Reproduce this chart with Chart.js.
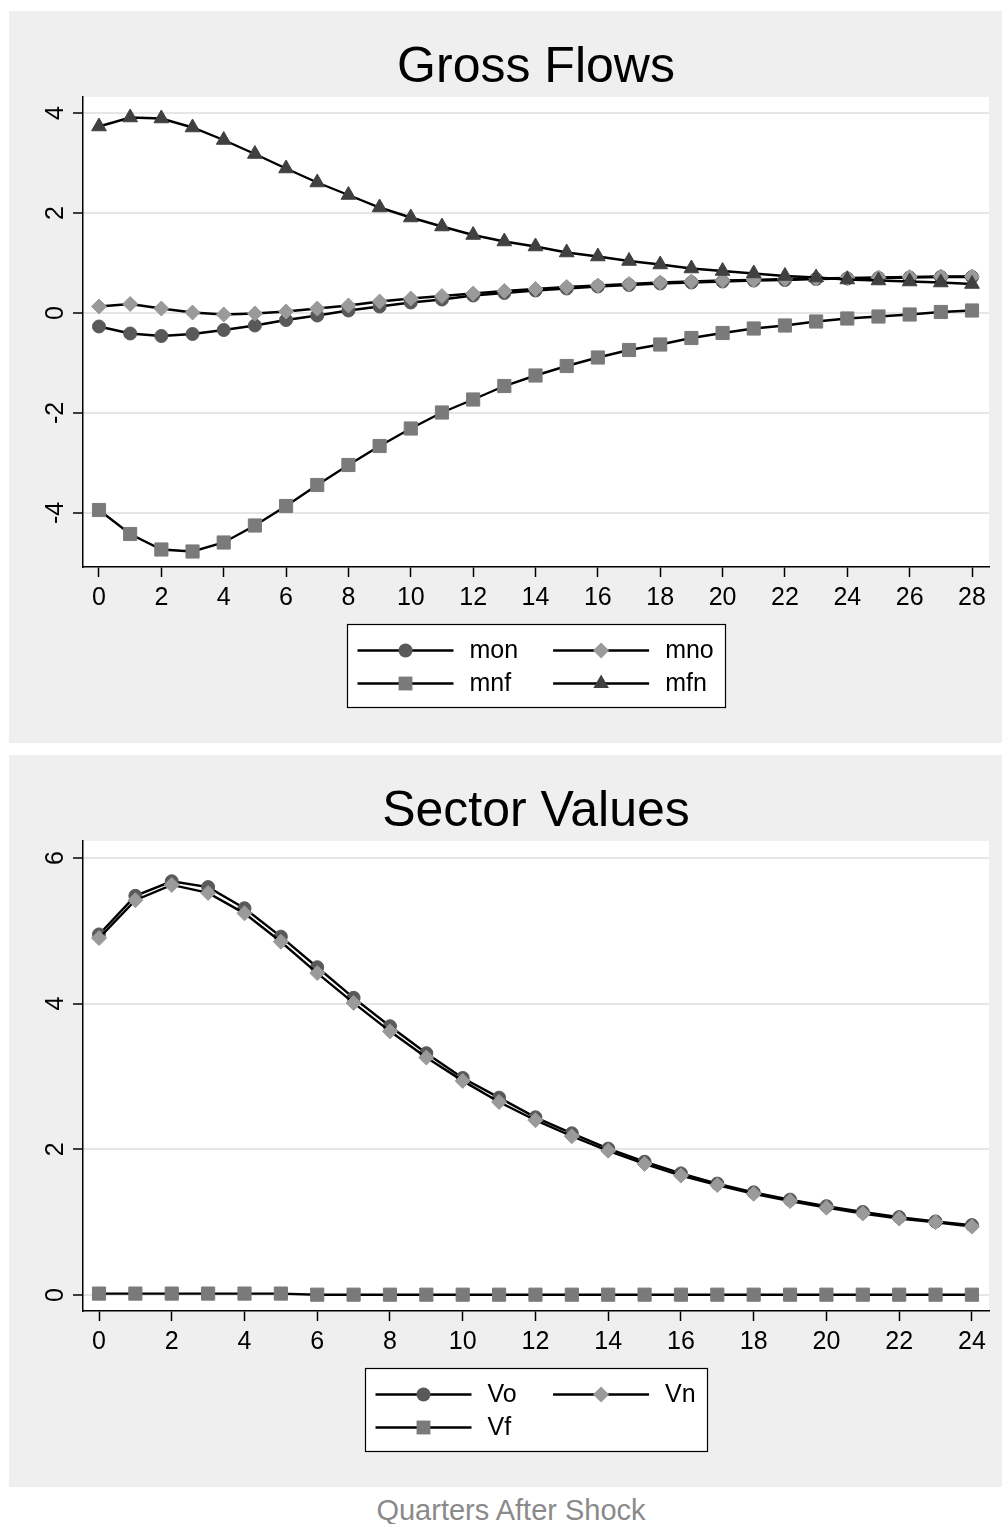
<!DOCTYPE html>
<html>
<head>
<meta charset="utf-8">
<script src="https://cdn.jsdelivr.net/npm/chart.js@4.4.1/dist/chart.umd.min.js"></script>
<style>
  body { margin: 0; background: #fff; width: 1002px; height: 1524px; position: relative; overflow: hidden; }
  .panel { position: absolute; left: 9px; width: 993px; height: 732px; background: #efefef; }
  #p1 { top: 11px; }
  #p2 { top: 755px; }
  canvas { display: block; }
  #note { position: absolute; top: 1496px; left: 511px; transform: translateX(-50%);
          font: 29px "Liberation Sans", Arial, sans-serif; line-height: 1; color: #8a8a8a; white-space: nowrap; }
</style>
</head>
<body>
<div class="panel" id="p1"><canvas id="flows" width="993" height="732"></canvas></div>
<div class="panel" id="p2"><canvas id="values" width="993" height="732"></canvas></div>
<div id="note">Quarters After Shock</div>
<script>
// Gross Flows (top)
var flowQuarters = [0, 1, 2, 3, 4, 5, 6, 7, 8, 9, 10, 11, 12, 13, 14, 15, 16, 17, 18, 19, 20, 21, 22, 23, 24, 25, 26, 27, 28];
var mon = [-0.27, -0.41, -0.46, -0.42, -0.34, -0.25, -0.14, -0.05, 0.05, 0.13, 0.21, 0.27, 0.35, 0.40, 0.45, 0.49, 0.53, 0.56, 0.59, 0.61, 0.63, 0.65, 0.66, 0.68, 0.69, 0.70, 0.71, 0.72, 0.72];
var mno = [0.13, 0.18, 0.09, 0.01, -0.03, -0.01, 0.03, 0.09, 0.15, 0.23, 0.29, 0.34, 0.39, 0.44, 0.48, 0.52, 0.55, 0.58, 0.61, 0.63, 0.65, 0.66, 0.68, 0.69, 0.70, 0.71, 0.72, 0.73, 0.73];
var mnf = [-3.94, -4.42, -4.73, -4.77, -4.59, -4.25, -3.86, -3.44, -3.04, -2.66, -2.31, -1.99, -1.73, -1.46, -1.25, -1.06, -0.89, -0.74, -0.63, -0.50, -0.40, -0.31, -0.25, -0.17, -0.11, -0.07, -0.03, 0.02, 0.05];
var mfn = [3.73, 3.91, 3.89, 3.71, 3.46, 3.18, 2.89, 2.61, 2.36, 2.11, 1.91, 1.73, 1.56, 1.43, 1.33, 1.21, 1.13, 1.04, 0.97, 0.89, 0.84, 0.79, 0.74, 0.71, 0.67, 0.65, 0.63, 0.61, 0.58];
var flowXTicks = [0, 2, 4, 6, 8, 10, 12, 14, 16, 18, 20, 22, 24, 26, 28];
var flowYTicks = [-4, -2, 0, 2, 4];

// Sector Values (bottom)
var valueQuarters = [0, 1, 2, 3, 4, 5, 6, 7, 8, 9, 10, 11, 12, 13, 14, 15, 16, 17, 18, 19, 20, 21, 22, 23, 24];
var Vo = [4.95, 5.48, 5.68, 5.60, 5.31, 4.92, 4.50, 4.08, 3.69, 3.32, 2.98, 2.71, 2.44, 2.22, 2.01, 1.83, 1.67, 1.53, 1.41, 1.31, 1.22, 1.14, 1.07, 1.01, 0.96];
var Vn = [4.90, 5.42, 5.63, 5.52, 5.24, 4.85, 4.42, 4.01, 3.62, 3.26, 2.94, 2.65, 2.40, 2.18, 1.98, 1.80, 1.64, 1.51, 1.39, 1.29, 1.20, 1.12, 1.05, 1.00, 0.94];
var Vf = [0.02, 0.02, 0.02, 0.02, 0.02, 0.02, 0.005, 0.005, 0.005, 0.005, 0.005, 0.005, 0.005, 0.005, 0.005, 0.005, 0.005, 0.005, 0.005, 0.005, 0.005, 0.005, 0.005, 0.005, 0.005];
var valueXTicks = [0, 2, 4, 6, 8, 10, 12, 14, 16, 18, 20, 22, 24];
var valueYTicks = [0, 2, 4, 6];

var FONT = '"Liberation Sans", Arial, sans-serif';

var styles = {
  circle:   { pointStyle: 'circle',   color: '#595959', radius: 6.5 },
  diamond:  { pointStyle: 'rectRot',  color: '#9a9a9a', radius: 7.5 },
  square:   { pointStyle: 'rect',     color: '#7a7a7a', radius: 9.3 },
  triangle: { pointStyle: 'triangle', color: '#404040', radius: 8.5 }
};

function series(label, xs, ys, style, order) {
  var s = styles[style];
  return {
    label: label,
    data: ys.map(function(v, i) { return { x: xs[i], y: v }; }),
    borderColor: '#000',
    borderWidth: 2.4,
    pointStyle: s.pointStyle,
    pointRadius: s.radius,
    pointBackgroundColor: s.color,
    pointBorderColor: s.color,
    pointBorderWidth: 1,
    tension: 0,
    order: order,
    markerStyle: style
  };
}

// white plot region like Stata
var plotBg = {
  id: 'plotBg',
  beforeDraw: function(chart) {
    var a = chart.chartArea, ctx = chart.ctx;
    ctx.save();
    ctx.fillStyle = '#fff';
    ctx.fillRect(a.left, a.top, a.right - a.left, a.bottom - a.top);
    ctx.restore();
  }
};

function marker(ctx, style, x, y) {
  var s = styles[style], r = s.radius + 0.5;
  ctx.fillStyle = s.color;
  ctx.beginPath();
  if (style === 'circle') {
    ctx.arc(x, y, r, 0, Math.PI * 2);
  } else if (style === 'diamond') {
    ctx.moveTo(x, y - r); ctx.lineTo(x + r, y); ctx.lineTo(x, y + r); ctx.lineTo(x - r, y);
  } else if (style === 'square') {
    var h = r * Math.SQRT1_2;
    ctx.rect(x - h, y - h, 2 * h, 2 * h);
  } else {
    ctx.moveTo(x, y - r);
    ctx.lineTo(x + r * Math.sin(Math.PI * 2 / 3), y + r / 2);
    ctx.lineTo(x - r * Math.sin(Math.PI * 2 / 3), y + r / 2);
  }
  ctx.closePath();
  ctx.fill();
}

// boxed two-column legend with line-and-marker keys
var boxLegend = {
  id: 'boxLegend',
  afterDraw: function(chart) {
    var ctx = chart.ctx, a = chart.chartArea;
    var sets = chart.data.datasets;
    var lineLen = 96, pad = 10, gapText = 16, gapCol = 35, rowH = 33;
    ctx.save();
    ctx.font = '25px ' + FONT;
    var maxW = 0;
    sets.forEach(function(d) { maxW = Math.max(maxW, ctx.measureText(d.label).width); });
    var colW = lineLen + gapText + maxW + gapCol;
    var boxW = Math.round(pad + colW + lineLen + gapText + maxW + 12);
    var rows = Math.ceil(sets.length / 2);
    var boxH = rows * rowH + 17;
    var left = Math.round((a.left + a.right) / 2 - boxW / 2) + 0.5;
    var top = Math.round(a.bottom + 57) + 0.5;
    ctx.fillStyle = '#fff';
    ctx.fillRect(left, top, boxW, boxH);
    ctx.strokeStyle = '#000';
    ctx.lineWidth = 1.2;
    ctx.strokeRect(left, top, boxW, boxH);
    sets.forEach(function(d, i) {
      var col = i % 2, row = Math.floor(i / 2);
      var x0 = left + pad + col * colW;
      var y = top + 26 + row * rowH;
      ctx.strokeStyle = '#000';
      ctx.lineWidth = 2.4;
      ctx.beginPath();
      ctx.moveTo(x0, y); ctx.lineTo(x0 + lineLen, y);
      ctx.stroke();
      marker(ctx, d.markerStyle, x0 + lineLen / 2, y);
      ctx.fillStyle = '#000';
      ctx.textBaseline = 'middle';
      ctx.textAlign = 'left';
      ctx.fillText(d.label, x0 + lineLen + gapText, y + 1);
    });
    ctx.restore();
  }
};

function makeChart(id, title, datasets, xr, yr, xTicks, yTicks, yPad) {
  return new Chart(document.getElementById(id), {
    type: 'line',
    data: { datasets: datasets },
    plugins: [plotBg, boxLegend],
    options: {
      responsive: false,
      animation: false,
      layout: { padding: { left: 0, right: 13, top: 0, bottom: 136 } },
      plugins: {
        legend: { display: false },
        tooltip: { enabled: false },
        title: {
          display: true,
          fullSize: false, // centre over the plot region
          text: title,
          color: '#000',
          font: { family: FONT, size: 50, weight: 'normal', lineHeight: 1.1 },
          padding: { top: 29.5, bottom: 1.5 }
        }
      },
      scales: {
        x: {
          type: 'linear',
          min: xr[0], max: xr[1],
          afterBuildTicks: function(s) { s.ticks = xTicks.map(function(v) { return { value: v }; }); },
          afterFit: function(s) { s.height = 40; },
          grid: { drawOnChartArea: false, drawTicks: true, tickLength: 10, tickColor: '#000', tickWidth: 1.5 },
          border: { display: true, color: '#000', width: 1.5 },
          ticks: { color: '#000', font: { family: FONT, size: 25 }, padding: 6, maxRotation: 0, autoSkip: false }
        },
        y: {
          min: yr[0], max: yr[1],
          afterBuildTicks: function(s) { s.ticks = yTicks.map(function(v) { return { value: v }; }); },
          afterFit: function(s) { s.width = 74; },
          grid: { color: '#e6e6e6', lineWidth: 2, drawTicks: true, tickLength: 10, tickColor: '#000', tickWidth: 1.5 },
          border: { display: true, color: '#000', width: 1.5 },
          ticks: { color: '#000', font: { family: FONT, size: 25 }, padding: yPad, minRotation: 90, maxRotation: 90, crossAlign: 'center', autoSkip: false }
        }
      }
    }
  });
}

makeChart('flows', 'Gross Flows', [
  series('mon', flowQuarters, mon, 'circle', 4),
  series('mno', flowQuarters, mno, 'diamond', 3),
  series('mnf', flowQuarters, mnf, 'square', 2),
  series('mfn', flowQuarters, mfn, 'triangle', 1)
], [-0.513, 28.545], [-5.08, 4.32], flowXTicks, flowYTicks, 6);

makeChart('values', 'Sector Values', [
  series('Vo', valueQuarters, Vo, 'circle', 3),
  series('Vn', valueQuarters, Vn, 'diamond', 2),
  series('Vf', valueQuarters, Vf, 'square', 1)
], [-0.44, 24.47], [-0.219, 6.233], valueXTicks, valueYTicks, 10);
</script>
</body>
</html>
